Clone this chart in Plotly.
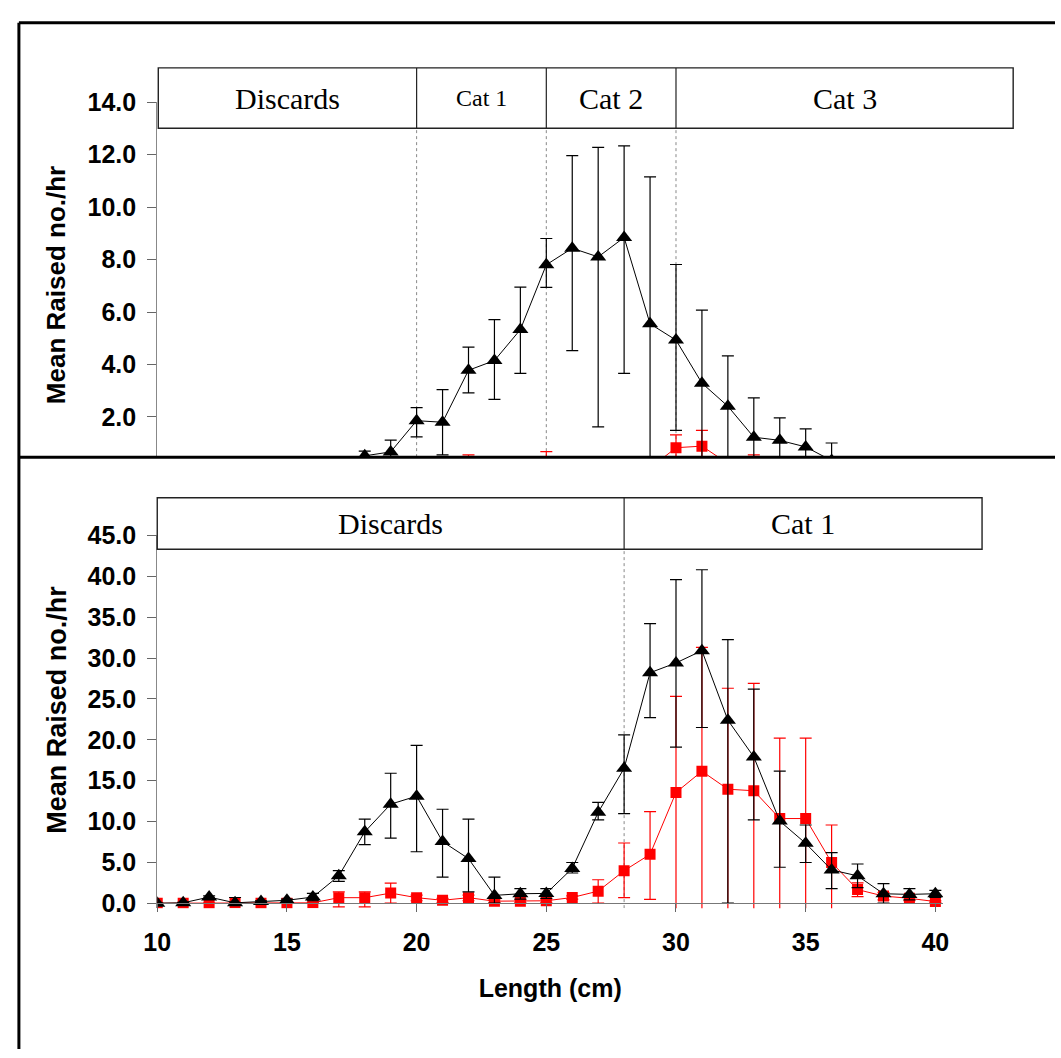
import plotly.graph_objects as go

# ---------------- data ----------------
lengths = list(range(10, 41))

# Top panel (partially hidden below y=0.47)
top_black = [0, 0, 0, 0, 0, 0.05, 0.1, 0.2, 0.52, 0.67, 1.86, 1.80, 3.78, 4.15, 5.33, 7.80,
             8.43, 8.10, 8.84, 5.55, 4.93, 3.29, 2.41, 1.23, 1.11, 0.86, 0.34, 0.2, 0.1, 0.05, 0]
top_black_plus = [0, 0, 0, 0, 0, 0.1, 0.1, 0.2, 0.18, 0.45, 0.50, 1.24, 0.88, 1.56, 1.62, 1.00,
                  3.53, 4.17, 3.49, 5.60, 2.88, 2.78, 1.92, 1.50, 0.86, 0.69, 0.67, 0.2, 0.1, 0.1, 0]
top_black_minus = [0, 0, 0, 0, 0, 0.05, 0.1, 0.2, 0.3, 0.45, 0.62, 1.24, 0.86, 1.48, 1.67, 0.86,
                   3.90, 6.48, 5.18, 5.55, 3.44, 3.29, 2.41, 1.23, 1.11, 0.86, 0.34, 0.2, 0.1, 0.05, 0]
top_red = [0, 0, 0, 0, 0, 0, 0, 0, 0, 0, 0, 0, 0.10, 0, 0, 0.20,
           0, 0, 0, 0.05, 0.83, 0.89, 0.23, 0.10, 0, 0, 0, 0, 0, 0, 0]
top_red_plus = [0, 0, 0, 0, 0, 0, 0, 0, 0, 0, 0, 0, 0.46, 0, 0, 0.48,
                0, 0, 0, 0.1, 0.49, 0.60, 0.2, 0.46, 0, 0, 0, 0, 0, 0, 0]
top_red_minus = [0, 0, 0, 0, 0, 0, 0, 0, 0, 0, 0, 0, 0.10, 0, 0, 0.20,
                 0, 0, 0, 0.05, 0.83, 0.89, 0.23, 0.10, 0, 0, 0, 0, 0, 0, 0]

# Bottom panel
bot_black = [0, 0.05, 0.75, 0.05, 0.2, 0.36, 0.75, 3.35, 8.73, 12.12, 13.1, 7.54, 5.46, 0.96, 1.16, 1.2,
             4.26, 11.12, 16.5, 28.2, 29.4, 30.9, 22.4, 17.9, 10.05, 7.33, 4.07, 3.35, 1.16, 1.08, 1.16]
bot_black_upper = [0, 0.1, 0.9, 0.7, 0.3, 0.5, 1.2, 3.98, 10.3, 15.9, 19.3, 11.5, 10.3, 3.2, 1.79, 1.79,
                   4.98, 12.35, 20.6, 34.2, 39.6, 40.8, 32.25, 26.2, 16.15, 9.57, 6.2, 4.8, 2.39, 1.79, 1.56]
bot_black_lower = [0, 0, 0.6, 0, 0.1, 0.2, 0.3, 2.67, 7.18, 7.97, 6.3, 3.2, 1.4, 0, 0.5, 0.6,
                   3.7, 10.2, 10.95, 22.7, 19.1, 21.5, 0, 10.2, 4.4, 4.98, 1.79, 1.9, 0, 0.4, 0.7]
bot_red = [0, 0, 0, 0.05, 0, 0, 0.05, 0.68, 0.68, 1.24, 0.68, 0.36, 0.68, 0.25, 0.25, 0.3,
           0.7, 1.48, 3.98, 5.98, 13.55, 16.15, 13.95, 13.76, 10.36, 10.36, 4.98, 1.67, 0.88, 0.6, 0.2]
bot_red_upper = [0, 0, 0, 0.1, 0, 0, 0.1, 1.4, 1.4, 2.47, 1.0, 0.6, 1.0, 0.4, 0.4, 0.5,
                 0.9, 2.87, 7.37, 11.2, 25.3, 31.3, 26.3, 26.9, 20.2, 20.2, 9.57, 2.5, 1.3, 0.9, 0.3]
bot_red_lower = [0, 0, 0, 0, 0, 0, 0, -0.45, -0.45, 0, 0.3, 0.1, 0.3, 0.1, 0.1, 0.1,
                 0.5, 0, 0.68, 0.48, -2, -2, -2, -2, -2, -2, -2, 0.8, 0.4, 0.3, 0.1]

top_cat_labels = ["Discards", "Cat 1", "Cat 2", "Cat 3"]
top_cat_edges = [10.04, 20, 25, 30, 43.0]
top_cat_sizes = [30, 24, 30, 30]
top_box_y = [13.0, 15.3]

bot_cat_labels = ["Discards", "Cat 1"]
bot_cat_edges = [10, 28, 41.8]
bot_cat_sizes = [30, 30]
bot_box_y = [43.3, 49.6]

# ---------------- layout constants ----------------
W, H = 1061, 1058
XR = [10, 40.3]
YR_TOP = [0.47, 14.0]
YR_BOT = [-0.6, 45.0]


def px(x):
    return x / W


def py(y):
    return 1 - y / H


x_dom = [px(146), px(947)]
top_dom = [py(453), py(90)]
bot_dom = [py(914), py(533)]


def fx(v):
    return (v - XR[0]) / (XR[1] - XR[0])


def fy(v, r):
    return (v - r[0]) / (r[1] - r[0])


fig = go.Figure()

AXFONT = dict(family="Arial, Liberation Sans", size=25, color="black", weight=700)


def add_series(y, plus, minus, xa, ya, color, symbol, size, lw):
    fig.add_trace(go.Scatter(
        x=lengths, y=y, xaxis=xa, yaxis=ya, mode="lines+markers",
        line=dict(color=color, width=lw),
        marker=dict(symbol=symbol, size=size, color=color),
        error_y=dict(type="data", symmetric=False, array=plus, arrayminus=minus,
                     color=color, thickness=1.2, width=6),
        showlegend=False, hoverinfo="skip"))


# top panel
add_series(top_red, top_red_plus, top_red_minus, "x", "y", "#ff0000", "square", 11, 1)
add_series(top_black, top_black_plus, top_black_minus, "x", "y", "#000000", "triangle-up", 14, 1)

# bottom panel
bp = [u - v for u, v in zip(bot_red_upper, bot_red)]
bm = [v - l for v, l in zip(bot_red, bot_red_lower)]
add_series(bot_red, bp, bm, "x2", "y2", "#ff0000", "square", 11, 1)
bp = [u - v for u, v in zip(bot_black_upper, bot_black)]
bm = [v - l for v, l in zip(bot_black, bot_black_lower)]
add_series(bot_black, bp, bm, "x2", "y2", "#000000", "triangle-up", 14, 1)

shapes = []
annotations = []


def category_box(edges, labels, sizes, box_y, xr, yr, yrange):
    x0, x1 = fx(edges[0]), fx(edges[-1])
    y0, y1 = fy(box_y[0], yrange), fy(box_y[1], yrange)
    shapes.append(dict(type="rect", xref=xr + " domain", yref=yr + " domain",
                       x0=x0, x1=x1, y0=y0, y1=y1,
                       line=dict(color="#222", width=1.4), fillcolor="white", layer="above"))
    for e in edges[1:-1]:
        shapes.append(dict(type="line", xref=xr + " domain", yref=yr + " domain",
                           x0=fx(e), x1=fx(e), y0=y0, y1=y1,
                           line=dict(color="#222", width=1.2), layer="above"))
        shapes.append(dict(type="line", xref=xr, yref=yr,
                           x0=e, x1=e, y0=yrange[0], y1=box_y[0],
                           line=dict(color="#888", width=1, dash="dot"), layer="below"))
    for i, lab in enumerate(labels):
        c = (edges[i] + edges[i + 1]) / 2
        annotations.append(dict(xref=xr + " domain", yref=yr + " domain",
                                x=fx(c), y=(y0 + y1) / 2, text=lab, showarrow=False,
                                font=dict(family="Times New Roman, Liberation Serif", size=sizes[i], color="black"),
                                xanchor="center", yanchor="middle"))


category_box(top_cat_edges, top_cat_labels, top_cat_sizes, top_box_y, "x", "y", YR_TOP)
category_box(bot_cat_edges, bot_cat_labels, bot_cat_sizes, bot_box_y, "x2", "y2", YR_BOT)

# frame lines
shapes.append(dict(type="line", xref="paper", yref="paper", x0=px(5), x1=1.0, y0=py(9), y1=py(9),
                   line=dict(color="black", width=3), layer="above"))
shapes.append(dict(type="line", xref="paper", yref="paper", x0=px(5), x1=1.0, y0=py(453), y1=py(453),
                   line=dict(color="black", width=3), layer="above"))
shapes.append(dict(type="line", xref="paper", yref="paper", x0=px(5), x1=px(5), y0=py(9), y1=0,
                   line=dict(color="black", width=3), layer="above"))

# y-axis titles
for yc, sz in [(277, 26), (711, 27)]:
    annotations.append(dict(xref="paper", yref="paper", x=px(43), y=py(yc), text="Mean Raised no./hr",
                            textangle=-90, showarrow=False, xanchor="center", yanchor="middle",
                            font=dict(family="Arial, Liberation Sans", size=sz, color="black", weight=700)))

fig.update_layout(
    width=W, height=H, margin=dict(l=0, r=0, t=0, b=0),
    paper_bgcolor="white", plot_bgcolor="white",
    shapes=shapes, annotations=annotations,
    xaxis=dict(domain=x_dom, range=XR, anchor="y", showticklabels=False, ticks="",
               showline=False, showgrid=False, zeroline=False),
    yaxis=dict(domain=top_dom, range=YR_TOP, anchor="x", tick0=0, dtick=2, tickformat=".1f",
               ticks="outside", ticklen=9, tickcolor="#666", showline=True, linecolor="#888", linewidth=1,
               showgrid=False, zeroline=False, tickfont=AXFONT, ticklabelstandoff=6),
    xaxis2=dict(domain=x_dom, range=XR, anchor="free", position=py(909), tick0=10, dtick=5,
                ticks="outside", ticklen=8, tickcolor="#666", showline=True, linecolor="#777", linewidth=1.2,
                showgrid=False, zeroline=False, tickfont=AXFONT, ticklabelstandoff=9,
                title=dict(text="Length (cm)", font=dict(family="Arial, Liberation Sans", size=25,
                                                          color="black", weight=700), standoff=24)),
    yaxis2=dict(domain=bot_dom, range=YR_BOT, anchor="x2", tick0=0, dtick=5, tickformat=".1f",
                ticks="outside", ticklen=9, tickcolor="#666", showline=True, linecolor="#888", linewidth=1,
                showgrid=False, zeroline=False, tickfont=AXFONT, ticklabelstandoff=6),
)

fig.write_html("out.html",
               post_script="document.body.style.margin='0';document.body.style.overflow='hidden';")
